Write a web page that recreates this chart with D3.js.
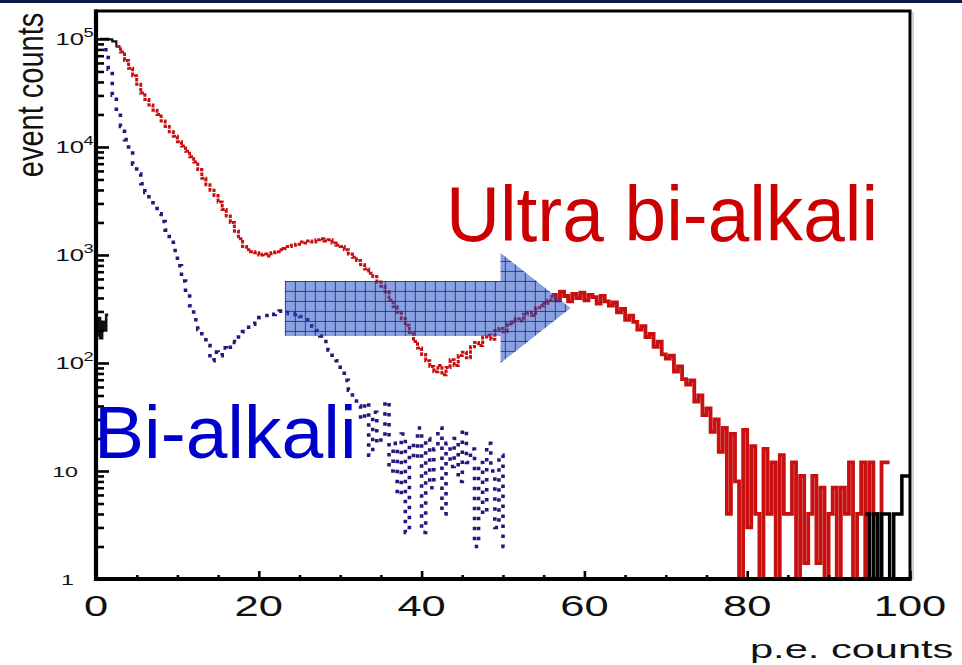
<!DOCTYPE html>
<html>
<head>
<meta charset="utf-8">
<script src="https://cdn.jsdelivr.net/npm/d3@7"></script>
<style>
  html, body { margin: 0; padding: 0; background: #fff; }
  svg { display: block; font-family: "Liberation Sans", Arial, Helvetica, sans-serif; }
</style>
</head>
<body>
<svg id="chart" width="962" height="665"></svg>
<script>
// ---- Histogram data: photo-electron spectra (counts per 0.5 p.e. bin) ----
const binWidth = 0.5;

// Ultra bi-alkali photocathode (red), first bin starts at 2.5 p.e.
const ultraStart = 2.5;
const ultraCounts = [
  85100, 75900, 63100, 53700, 45700, 38000, 31600, 27500, 24500, 21900,
  20000, 17400, 15500, 13800, 12600, 11200, 10200, 9120, 8130, 7240,
  6170, 5130, 4470, 3980, 3550, 3090, 2630, 2290, 2000, 1660,
  1410, 1200, 1120, 1070, 1050, 1000, 1020, 980, 1050, 1070,
  1120, 1150, 1200, 1230, 1260, 1320, 1290, 1350, 1320, 1380,
  1410, 1350, 1380, 1290, 1230, 1200, 1120, 1020, 955, 891,
  813, 741, 676, 631, 562, 513, 457, 380, 331, 295,
  257, 224, 191, 158, 138, 120, 105, 93, 83, 95,
  78, 91, 107, 95, 117, 126, 112, 141, 155, 145,
  174, 182, 166, 200, 209, 195, 229, 240, 257, 245,
  282, 295, 275, 324, 339, 355, 380,
  // second peak and fall-off (56.0 - 77.0 p.e.)
  427, 380, 457, 417, 372, 437, 398, 447, 380, 427,
  407, 355, 417, 372, 339, 363, 295, 316, 251, 275,
  240, 204, 219, 174, 186, 141, 158, 120, 110, 117,
  83, 93, 71, 63, 69, 44, 50, 33, 38, 23,
  30, 15, 25,
  // low-statistics tail (77.5 - 97.0 p.e.)
  4, 22, 8, 1, 24, 3, 17, 4, 1, 16,
  4, 12, 1, 14, 4, 4, 12, 1, 9, 1.4,
  4, 9, 1.4, 7, 1, 4, 7, 1, 7, 4,
  12, 1, 4, 12, 1, 12, 4, 1, 12, 12
];
// above this p.e. value the red histogram is drawn as a solid line
const ultraSolidFrom = 56;

// Standard bi-alkali photocathode (blue), first bin starts at 1.0 p.e.
const biStart = 1.0;
const biCounts = [
  79400, 52500, 30200, 20900, 15500, 11700, 9120, 6920, 5620, 4570,
  3800, 3310, 2820, 2400, 2040, 1700, 1380, 1100, 794, 575,
  437, 339, 251, 204, 178, 145, 105, 126, 117, 138,
  132, 158, 155, 182, 195, 214, 229, 251, 263, 275,
  288, 282, 295, 302, 288, 295, 282, 288, 269, 251,
  234, 219, 200, 178, 158, 132, 112, 105, 85, 69,
  56, 47,
  // low-statistics tail
  40, 30, 43, 14, 35, 18, 22, 44, 10, 18,
  6, 22, 2.7, 18, 13, 25, 2.7, 20, 7, 16,
  25, 4, 18, 11, 20, 8, 24, 12, 16, 2,
  12, 4, 18, 10, 3, 14, 2
];

// Reference histogram (black): pedestal head, pedestal spike and overflow tail
const blackHeadStart = 0.5;
const blackHeadCounts = [100000, 100000, 99000, 95000, 86000];
const pedestalStart = 0.0;
const pedestalWidth = 0.25;
const pedestalCounts = [180, 260, 170, 240, 200, 280];
const blackTailStart = 94.5;
const blackTailCounts = [4, 1, 4, 1, 4, 4, 1, 4, 4, 9, 9];

// Axis ticks
const xMajorTicks = [0, 20, 40, 60, 80, 100];
const xMinorStep = 5;
const yDecades = [1, 10, 100, 1000, 10000, 100000];
const yTickBase = ["1", "10", "10", "10", "10", "10"];
const yTickExp = ["", "", "2", "3", "4", "5"];

// Annotation arrow, in data units (p.e., counts)
const arrowBody = { x0: 23.2, x1: 49.7, top: 575, bottom: 178 };
const arrowHead = { tip: 58.3, top: 1045, bottom: 100, mid: 323 };

// ---- Layout ----
const W = 962, H = 665;
const plot = { left: 96, right: 910, top: 11, bottom: 579 };
const yMax = 1.815e5;

const svg = d3.select("#chart");
const defs = svg.append("defs");

const x = d3.scaleLinear().domain([0, 100]).range([plot.left, plot.right]);
const y = d3.scaleLog().domain([1, yMax]).range([plot.bottom, plot.top]);

// Background
svg.append("rect").attr("width", W).attr("height", H).attr("fill", "#fff");
// Slide header rule
svg.append("rect").attr("x", 0).attr("y", 0).attr("width", W).attr("height", 3).attr("fill", "#0c1a47");

defs.append("clipPath").attr("id", "plotClip")
  .append("rect")
  .attr("x", plot.left).attr("y", plot.top)
  .attr("width", plot.right - plot.left).attr("height", plot.bottom - plot.top);

function histPoints(start, width, counts) {
  const pts = counts.map((c, i) => [start + i * width, c]);
  pts.push([start + counts.length * width, counts[counts.length - 1]]);
  return pts;
}
const stepLine = d3.line()
  .x(d => x(d[0]))
  .y(d => y(Math.max(1, d[1])))
  .curve(d3.curveStepAfter);

const data = svg.append("g").attr("clip-path", "url(#plotClip)");

// black reference histogram (underneath)
data.append("path")
  .attr("d", stepLine(histPoints(blackHeadStart, binWidth, blackHeadCounts)))
  .attr("fill", "none").attr("stroke", "#111").attr("stroke-width", 2.2);
data.append("path")
  .attr("d", stepLine(histPoints(pedestalStart, pedestalWidth, pedestalCounts)))
  .attr("fill", "none").attr("stroke", "#111").attr("stroke-width", 2.6);

// ultra bi-alkali: dashed over the smooth part, solid over the noisy tail
const ultraPts = histPoints(ultraStart, binWidth, ultraCounts);
const splitIdx = Math.round((ultraSolidFrom - ultraStart) / binWidth);
data.append("path")
  .attr("d", stepLine(ultraPts.slice(0, splitIdx + 1)))
  .attr("fill", "none").attr("stroke", "#c81010").attr("stroke-width", 3)
  .attr("stroke-dasharray", "3.5,1.2");
data.append("path")
  .attr("d", stepLine(ultraPts.slice(splitIdx)))
  .attr("fill", "none").attr("stroke", "#c81010").attr("stroke-width", 3.8);

// bi-alkali
data.append("path")
  .attr("d", stepLine(histPoints(biStart, binWidth, biCounts)))
  .attr("fill", "none").attr("stroke", "#24187e").attr("stroke-width", 3.6)
  .attr("stroke-dasharray", "3.5,6.5");

// black overflow tail
data.append("path")
  .attr("d", stepLine(histPoints(blackTailStart, binWidth, blackTailCounts)))
  .attr("fill", "none").attr("stroke", "#000").attr("stroke-width", 3.5);

// ---- Arrow with cross-hatched translucent fill ----
const pat = defs.append("pattern").attr("id", "hatch")
  .attr("patternUnits", "userSpaceOnUse")
  .attr("x", x(arrowBody.x0)).attr("y", y(arrowBody.top))
  .attr("width", 10).attr("height", 10);
pat.append("rect").attr("width", 10).attr("height", 10).attr("fill", "rgba(40,82,190,0.50)");
for (let i = 0; i < 10; i++) {
  for (let j = 0; j < 10; j++) {
    if ((i + j) % 2 === 0) {
      pat.append("rect").attr("x", i).attr("y", j).attr("width", 1).attr("height", 1)
        .attr("fill", "rgba(40,82,190,0.16)");
    }
  }
}
pat.append("path").attr("d", "M0,0.5H10M0.5,0V10")
  .attr("stroke", "rgba(18,48,160,0.85)").attr("stroke-width", 1);

const arrowPts = [
  [arrowBody.x0, arrowBody.top], [arrowBody.x1, arrowBody.top],
  [arrowBody.x1, arrowHead.top], [arrowHead.tip, arrowHead.mid],
  [arrowBody.x1, arrowHead.bottom], [arrowBody.x1, arrowBody.bottom],
  [arrowBody.x0, arrowBody.bottom]
];
svg.append("path")
  .attr("d", d3.line().x(d => x(d[0])).y(d => y(d[1]))(arrowPts) + "Z")
  .attr("fill", "url(#hatch)");

// ---- Frame and axes ----
svg.append("line").attr("x1", plot.right + 3).attr("x2", plot.right + 3)
  .attr("y1", plot.top + 1).attr("y2", plot.bottom + 1)
  .attr("stroke", "#c4c4c4").attr("stroke-width", 1.5);
svg.append("rect")
  .attr("x", plot.left).attr("y", plot.top)
  .attr("width", plot.right - plot.left).attr("height", plot.bottom - plot.top)
  .attr("fill", "none").attr("stroke", "#000").attr("stroke-width", 3);

const isMajorY = v => Math.abs(Math.log10(v) - Math.round(Math.log10(v))) < 1e-9;
const yTickValues = [];
yDecades.forEach(d => {
  if (d === yDecades[yDecades.length - 1]) { yTickValues.push(d); return; }
  for (let k = 1; k <= 9; k++) yTickValues.push(k * d);
});

const gy = svg.append("g").attr("transform", `translate(${plot.left},0)`)
  .call(d3.axisLeft(y).tickValues(yTickValues).tickSizeInner(-8).tickSizeOuter(0).tickFormat(""));
gy.select(".domain").remove();
gy.selectAll(".tick line")
  .attr("stroke", "#000").attr("stroke-width", 2.6)
  .attr("x2", d => isMajorY(d) ? 13 : 8);

const xTickValues = d3.range(xMajorTicks[0], xMajorTicks[xMajorTicks.length - 1] + 1, xMinorStep);
const gx = svg.append("g").attr("transform", `translate(0,${plot.bottom})`)
  .call(d3.axisBottom(x).tickValues(xTickValues).tickSizeInner(-4).tickSizeOuter(0).tickFormat(""));
gx.select(".domain").remove();
gx.selectAll(".tick line")
  .attr("stroke", "#000").attr("stroke-width", 2.6)
  .attr("y2", d => xMajorTicks.includes(d) ? -8 : -4);

// thick left and bottom axis lines
svg.append("line").attr("x1", plot.left).attr("x2", plot.left)
  .attr("y1", plot.top - 1.5).attr("y2", plot.bottom + 2)
  .attr("stroke", "#000").attr("stroke-width", 4.2);
svg.append("line").attr("x1", plot.left - 2).attr("x2", plot.right + 1.5)
  .attr("y1", plot.bottom).attr("y2", plot.bottom)
  .attr("stroke", "#000").attr("stroke-width", 4);

// y tick labels (10 with superscript exponent)
const ylab = svg.append("g").attr("fill", "#111");
yDecades.forEach((d, i) => {
  const ty = y(d);
  const small = yTickExp[i] === "";
  ylab.append("text")
    .attr("transform", `translate(${small ? (i === 0 ? 74 : 78) : 84},${ty + (small ? 6 : 6.5)}) scale(1.6,1)`)
    .attr("text-anchor", "end")
    .attr("font-size", small ? 14.5 : 16)
    .text(yTickBase[i]);
  if (!small) {
    ylab.append("text")
      .attr("transform", `translate(83.5,${ty - 1.5}) scale(1.35,1)`)
      .attr("text-anchor", "start")
      .attr("font-size", 13.5)
      .text(yTickExp[i]);
  }
});

// x tick labels
const xlab = svg.append("g").attr("fill", "#111");
xMajorTicks.forEach(v => {
  xlab.append("text")
    .attr("transform", `translate(${x(v)},616) scale(1.5,1)`)
    .attr("text-anchor", "middle")
    .attr("font-size", 29)
    .text(v);
});

// axis titles
svg.append("text")
  .attr("transform", "translate(750,658) scale(1.6,1)")
  .attr("font-size", 26).attr("fill", "#111")
  .text("p.e. counts");
svg.append("text")
  .attr("transform", "translate(43,95) scale(1.25,1) rotate(-90)")
  .attr("text-anchor", "middle")
  .attr("font-size", 29).attr("fill", "#111")
  .text("event counts");

// series labels
svg.append("text")
  .attr("x", 446).attr("y", 241)
  .attr("font-size", 77).attr("fill", "#cc0000")
  .attr("textLength", 432).attr("lengthAdjust", "spacingAndGlyphs")
  .text("Ultra bi-alkali");
svg.append("text")
  .attr("x", 94).attr("y", 458)
  .attr("font-size", 75).attr("fill", "#0000cc")
  .text("Bi-alkali");
</script>
</body>
</html>
